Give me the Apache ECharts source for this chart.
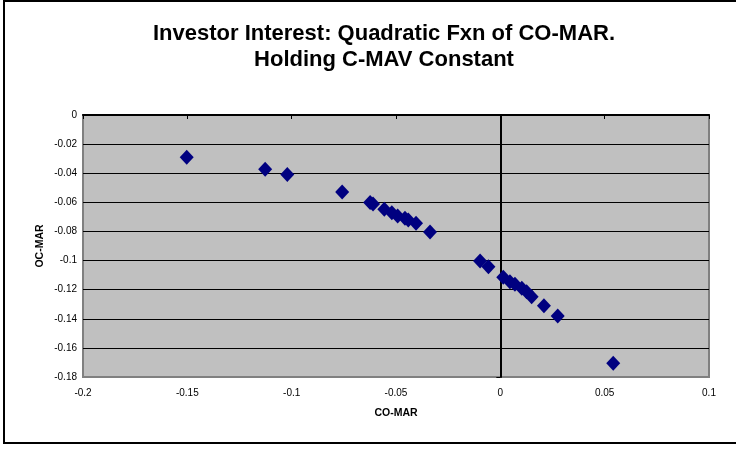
<!DOCTYPE html>
<html>
<head>
<meta charset="utf-8">
<script src="https://cdn.jsdelivr.net/npm/echarts@6/dist/echarts.min.js"></script>
<style>
  html, body { margin: 0; padding: 0; background: #fff; }
  #chart { width: 736px; height: 449px; }
</style>
</head>
<body>
<div id="chart"></div>
<script>
// CO-MAR (x) vs. OC-MAR (y) observations
const coMar = [
  -0.1503, -0.1127, -0.1021, -0.0758, -0.0624, -0.0610, -0.0556, -0.0520,
  -0.0492, -0.0457, -0.0441, -0.0404, -0.0337,
  -0.0097, -0.0057, 0.0014, 0.0046, 0.0070, 0.0103, 0.0126, 0.0150,
  0.0209, 0.0275, 0.0541
];
const ocMar = [
  -0.0291, -0.0373, -0.0408, -0.0529, -0.0602, -0.0612, -0.0648, -0.0671,
  -0.0694, -0.0710, -0.0721, -0.0744, -0.0804,
  -0.1003, -0.1042, -0.1115, -0.1145, -0.1163, -0.1191, -0.1214, -0.1248,
  -0.1310, -0.1381, -0.1706
];

const titleLines = ['Investor Interest: Quadratic Fxn of CO-MAR.', 'Holding C-MAV Constant'];
const xName = 'CO-MAR';
const yName = 'OC-MAR';
const xRange = { min: -0.2, max: 0.1, interval: 0.05 };
const yRange = { min: -0.18, max: 0, interval: 0.02 };

const points = coMar.map((x, i) => [x, ocMar[i]]);
const labelFont = { fontFamily: 'Liberation Sans, Arial, sans-serif', fontSize: 10, color: '#000' };

const chart = echarts.init(document.getElementById('chart'), null, { renderer: 'canvas' });
chart.setOption({
  animation: false,
  backgroundColor: '#fff',
  graphic: [
    {
      type: 'rect', silent: true,
      shape: { x: 4, y: 1, width: 745, height: 442 },
      style: { fill: 'none', stroke: '#000', lineWidth: 2 }
    },
    {
      type: 'text', x: 384, y: 21, silent: true,
      style: {
        text: titleLines.join('\n'), textAlign: 'center', textVerticalAlign: 'top',
        font: 'bold 22px "Liberation Sans", Arial, sans-serif', lineHeight: 26, fill: '#000'
      }
    }
  ],
  grid: {
    left: 83, right: 27, top: 115, bottom: 72,
    show: true, backgroundColor: '#C0C0C0', borderColor: '#808080', borderWidth: 2
  },
  xAxis: [
    {
      type: 'value', position: 'bottom', ...xRange,
      name: xName, nameLocation: 'middle', nameGap: 31, nameMoveOverlap: false,
      nameTextStyle: { fontFamily: 'Liberation Sans, Arial, sans-serif', fontSize: 10.5, fontWeight: 'bold', color: '#000' },
      axisLine: { show: false, onZero: false },
      axisTick: { show: false },
      splitLine: { show: false },
      axisLabel: { ...labelFont, margin: 11 }
    },
    {
      // horizontal axis line crossing at OC-MAR = 0
      type: 'value', position: 'top', ...xRange,
      axisLine: { show: true, onZero: true, lineStyle: { color: '#000', width: 2 } },
      axisTick: { show: true, inside: true, length: 4, lineStyle: { color: '#000', width: 1 } },
      axisLabel: { show: false },
      splitLine: { show: false }
    }
  ],
  yAxis: [
    {
      type: 'value', position: 'left', ...yRange,
      name: yName, nameLocation: 'middle', nameGap: 37, nameRotate: 90, nameMoveOverlap: false,
      nameTextStyle: { fontFamily: 'Liberation Sans, Arial, sans-serif', fontSize: 10.5, fontWeight: 'bold', color: '#000' },
      axisLine: { show: false, onZero: false },
      axisTick: { show: false },
      axisLabel: { ...labelFont, margin: 6 },
      splitLine: { show: true, showMinLine: false, lineStyle: { color: '#000', width: 1 } }
    },
    {
      // vertical axis line crossing at CO-MAR = 0
      type: 'value', position: 'left', ...yRange,
      axisLine: { show: true, onZero: true, lineStyle: { color: '#000', width: 2 } },
      axisTick: { show: true, length: 4, lineStyle: { color: '#000', width: 1 } },
      axisLabel: { show: false },
      splitLine: { show: false }
    }
  ],
  series: [
    {
      type: 'scatter', xAxisIndex: 0, yAxisIndex: 0,
      symbol: 'diamond', symbolSize: [14, 15],
      itemStyle: { color: '#000080', opacity: 1 },
      data: points
    }
  ]
});
</script>
</body>
</html>
